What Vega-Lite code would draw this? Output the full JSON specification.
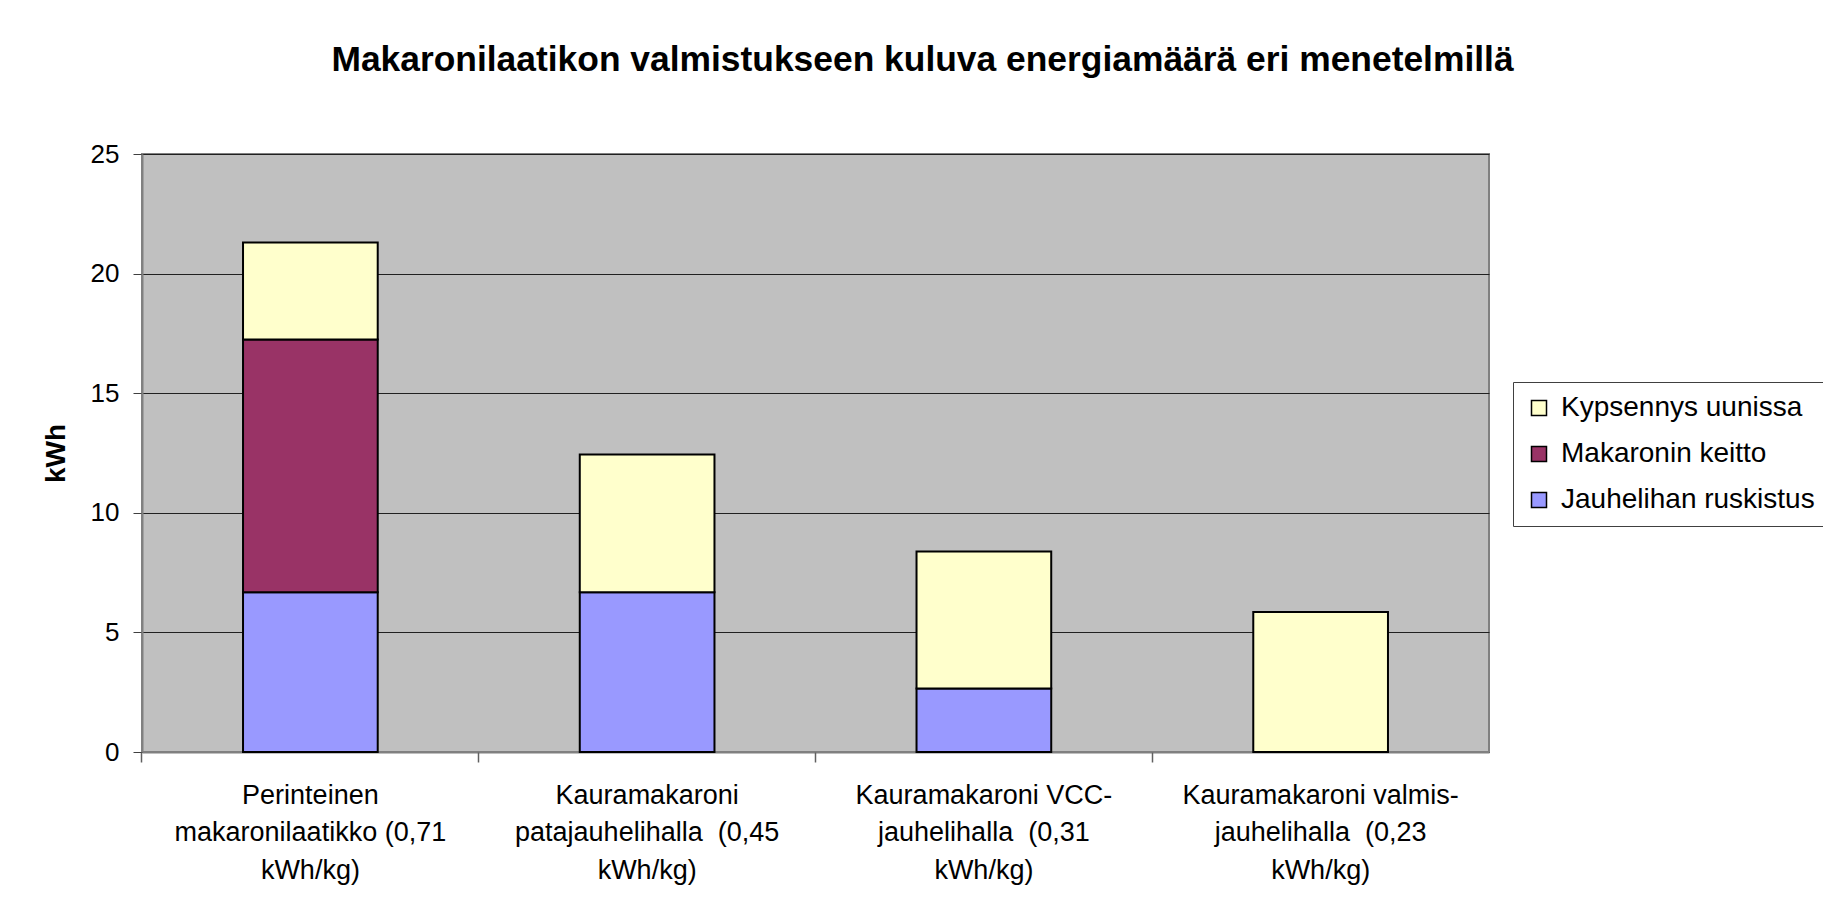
{
  "$schema": "https://vega.github.io/schema/vega-lite/v6.json",
  "autosize": {"type": "none"},
  "width": 1347,
  "height": 598,
  "padding": {"left": 142, "top": 154, "right": 334, "bottom": 165},
  "background": "white",
  "title": {
    "text": "Makaronilaatikon valmistukseen kuluva energiamäärä eri menetelmillä",
    "anchor": "middle",
    "dx": 107,
    "offset": 63,
    "font": "Liberation Sans",
    "fontSize": 35.4,
    "fontWeight": "bold",
    "color": "black"
  },
  "data": {
    "values": [
      {"method": "Perinteinen|makaronilaatikko (0,71|kWh/kg)", "series": "Jauhelihan ruskistus", "k": 1, "kWh": 6.68},
      {"method": "Perinteinen|makaronilaatikko (0,71|kWh/kg)", "series": "Makaronin keitto", "k": 2, "kWh": 10.57},
      {"method": "Perinteinen|makaronilaatikko (0,71|kWh/kg)", "series": "Kypsennys uunissa", "k": 3, "kWh": 4.05},
      {"method": "Kauramakaroni|patajauhelihalla \u00a0(0,45|kWh/kg)", "series": "Jauhelihan ruskistus", "k": 1, "kWh": 6.68},
      {"method": "Kauramakaroni|patajauhelihalla \u00a0(0,45|kWh/kg)", "series": "Makaronin keitto", "k": 2, "kWh": 0},
      {"method": "Kauramakaroni|patajauhelihalla \u00a0(0,45|kWh/kg)", "series": "Kypsennys uunissa", "k": 3, "kWh": 5.76},
      {"method": "Kauramakaroni VCC-|jauhelihalla \u00a0(0,31|kWh/kg)", "series": "Jauhelihan ruskistus", "k": 1, "kWh": 2.65},
      {"method": "Kauramakaroni VCC-|jauhelihalla \u00a0(0,31|kWh/kg)", "series": "Makaronin keitto", "k": 2, "kWh": 0},
      {"method": "Kauramakaroni VCC-|jauhelihalla \u00a0(0,31|kWh/kg)", "series": "Kypsennys uunissa", "k": 3, "kWh": 5.73},
      {"method": "Kauramakaroni valmis-|jauhelihalla \u00a0(0,23|kWh/kg)", "series": "Jauhelihan ruskistus", "k": 1, "kWh": 0},
      {"method": "Kauramakaroni valmis-|jauhelihalla \u00a0(0,23|kWh/kg)", "series": "Makaronin keitto", "k": 2, "kWh": 0},
      {"method": "Kauramakaroni valmis-|jauhelihalla \u00a0(0,23|kWh/kg)", "series": "Kypsennys uunissa", "k": 3, "kWh": 5.85}
    ]
  },
  "transform": [{"filter": "datum.kWh > 0"}],
  "encoding": {
    "y": {
      "field": "kWh",
      "type": "quantitative",
      "stack": "zero",
      "scale": {"domain": [0, 25]},
      "axis": {
        "title": "kWh",
        "values": [0, 5, 10, 15, 20, 25],
        "titleFont": "Liberation Sans",
        "titleFontSize": 28,
        "titleFontWeight": "bold",
        "titleColor": "black",
        "titleX": -86,
        "titleY": 299,
        "titleAlign": "center",
        "titleBaseline": "middle",
        "titleAngle": -90,
        "labelFont": "Liberation Sans",
        "labelFontSize": 26,
        "labelColor": "black",
        "labelPadding": 14,
        "tickSize": 9,
        "tickColor": "#404040",
        "domainColor": "#808080",
        "domainWidth": 2,
        "grid": true,
        "gridColor": "#202020",
        "gridWidth": 1,
        "gridOpacity": 1
      }
    },
    "order": {"field": "k", "type": "quantitative"}
  },
  "layer": [
    {
      "mark": {"type": "bar", "stroke": "black", "strokeWidth": 2},
      "encoding": {
        "x": {
          "field": "method",
          "type": "nominal",
          "sort": null,
          "scale": {"paddingInner": 0.6, "paddingOuter": 0.3},
          "axis": {
            "title": null,
            "orient": "bottom",
            "labelExpr": "split(datum.label, '|')",
            "labelAngle": 0,
            "labelFont": "Liberation Sans",
            "labelFontSize": 27,
            "labelColor": "black",
            "labelLineHeight": 37.5,
            "labelPadding": 30,
            "labelBaseline": "top",
            "labelLimit": 400,
            "ticks": false,
            "domainColor": "#808080",
            "domainWidth": 2
          }
        },
        "color": {
          "field": "series",
          "type": "nominal",
          "scale": {
            "domain": ["Kypsennys uunissa", "Makaronin keitto", "Jauhelihan ruskistus"],
            "range": ["#FFFFCC", "#993366", "#9999FF"]
          },
          "legend": {
            "title": null,
            "orient": "none",
            "legendX": 1371,
            "legendY": 228,
            "strokeColor": "#404040",
            "padding": 12,
            "symbolType": "square",
            "symbolSize": 225,
            "symbolStrokeColor": "black",
            "symbolStrokeWidth": 1.5,
            "labelFont": "Liberation Sans",
            "labelFontSize": 28,
            "labelColor": "black",
            "labelLimit": 400,
            "labelOffset": 8,
            "rowPadding": 18
          }
        }
      }
    },
    {
      "mark": {"type": "bar", "opacity": 0},
      "encoding": {
        "x": {
          "field": "method",
          "type": "nominal",
          "sort": null,
          "axis": {
            "title": null,
            "orient": "bottom",
            "labels": false,
            "domain": false,
            "ticks": true,
            "bandPosition": -0.75,
            "tickSize": 10,
            "tickColor": "#606060",
            "tickWidth": 1.5
          }
        }
      }
    }
  ],
  "resolve": {"axis": {"x": "independent"}},
  "config": {
    "view": {"fill": "#C0C0C0", "stroke": "#808080", "strokeWidth": 2}
  }
}
